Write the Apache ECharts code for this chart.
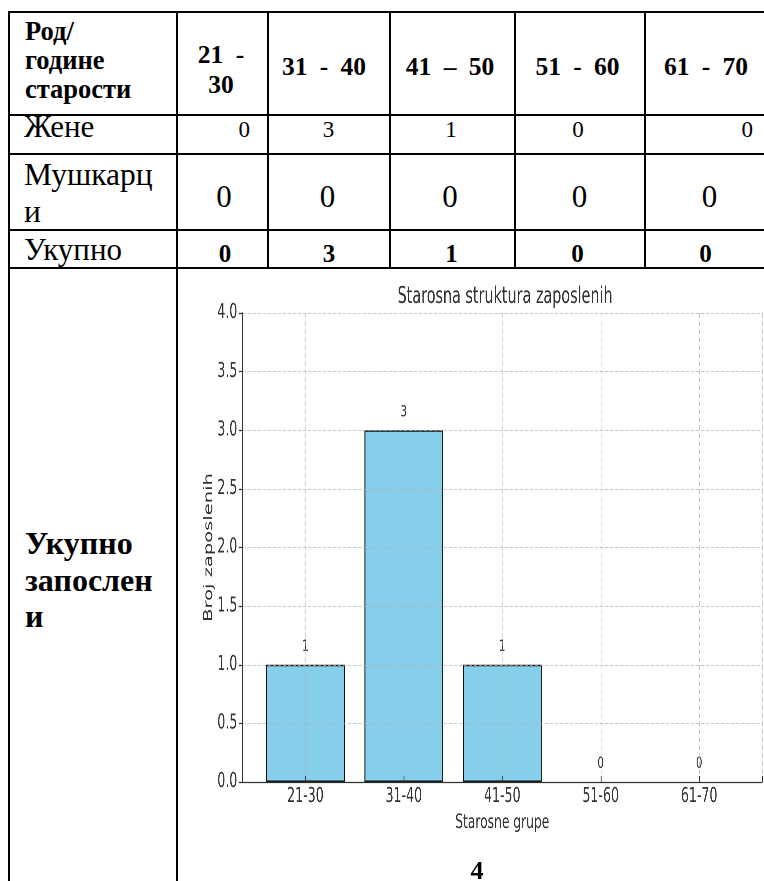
<!DOCTYPE html>
<html><head><meta charset="utf-8">
<script src="https://cdn.jsdelivr.net/npm/echarts@6/dist/echarts.min.js"></script>
<style>
html,body{margin:0;padding:0;background:#fff;}
body{width:764px;height:881px;overflow:hidden;position:relative;font-family:"Liberation Serif","Times New Roman",serif;color:#000;}
.ln{position:absolute;background:#000;}
.t{position:absolute;white-space:nowrap;}
#chart{position:absolute;left:180px;top:270px;width:927px;height:611px;transform:scaleX(0.63);transform-origin:0 0;}
</style></head><body>
<div id="chart"></div>
<script>
// ---------- DATA ----------
const headerTitle = ['Род/', 'године', 'старости'];
const ageGroups = [['21 -', '30'], ['31 - 40'], ['41 – 50'], ['51 - 60'], ['61 - 70']];
const womenLabel = ['Жене'];
const menLabel = ['Мушкарц', 'и'];
const sumLabel = ['Укупно'];
const women = [0, 3, 1, 0, 0];
const men = [0, 0, 0, 0, 0];
const total = [0, 3, 1, 0, 0];
const totalEmployedLabel = ['Укупно', 'запослен', 'и'];
const totalEmployed = ['4'];
const chartTitle = 'Starosna struktura zaposlenih';
const chartXName = 'Starosne grupe';
const chartYName = 'Broj zaposlenih';
const chartCategories = ['21-30', '31-40', '41-50', '51-60', '61-70'];
const chartValues = [1, 3, 1, 0, 0];
const yTickMin = 0, yTickMax = 4, yTickStep = 0.5;

// ---------- LAYOUT ----------
const vLines = [[9, 12, 881], [177, 12, 881], [268, 12, 268], [390, 12, 268], [515, 12, 268], [645, 12, 268], [767, 12, 268]];
const hLines = [12, 115, 154, 230, 268];
function line(x, y, w, h) {
  const d = document.createElement('div'); d.className = 'ln';
  d.style.left = x + 'px'; d.style.top = y + 'px'; d.style.width = w + 'px'; d.style.height = h + 'px';
  document.body.appendChild(d);
}
vLines.forEach(([x, y0, y1]) => line(x - 1, y0 - 1, 2, y1 - y0 + 2));
hLines.forEach(y => line(8, y - 1, 762, 2));

function put(text, x, baseline, size, bold, align, extra) {
  const d = document.createElement('div'); d.className = 't';
  d.textContent = text;
  d.style.fontSize = size + 'px'; d.style.lineHeight = size + 'px';
  d.style.fontWeight = bold ? 'bold' : 'normal';
  d.style.top = (baseline - 0.8375 * size) + 'px';
  d.style.left = x + 'px';
  if (align === 'center') d.style.transform = 'translateX(-50%)';
  if (align === 'right') d.style.transform = 'translateX(-100%)';
  if (extra) Object.assign(d.style, extra);
  document.body.appendChild(d);
}
// header
const hdrBase = [40, 69, 98.5];
headerTitle.forEach((s, i) => put(s, 25, hdrBase[i], 26.5, true, 'left'));
const hdrCenters = [221, 324, 450, 577.5, 706];
ageGroups.forEach((lines, i) => {
  const bases = lines.length === 2 ? [63.3, 93.3] : [75];
  lines.forEach((s, j) => put(s, hdrCenters[i], bases[j], 25.5, true, 'center', {wordSpacing: '6px'}));
});
// women row
put(womenLabel[0], 24, 137, 31, false, 'left');
const wPos = [[250, 'right'], [328.5, 'center'], [451, 'center'], [578, 'center'], [753, 'right']];
women.forEach((v, i) => put(String(v), wPos[i][0], 137, 23, false, wPos[i][1]));
// men row
[185, 222].forEach((b, j) => put(menLabel[j], 24, b, 31.5, false, 'left'));
const mPos = [224, 327.5, 450, 579.5, 709.5];
men.forEach((v, i) => put(String(v), mPos[i], 206.7, 31, false, 'center'));
// total row
put(sumLabel[0], 24, 260, 31, false, 'left');
const tPos = [225, 329, 451.5, 577.5, 705.5];
total.forEach((v, i) => put(String(v), tPos[i], 261.7, 25, true, 'center'));
// bottom cell
[554, 591, 627].forEach((b, j) => put(totalEmployedLabel[j], 25, b, 32, true, 'left'));
put(totalEmployed[0], 477, 880, 26, true, 'center');

// ---------- CHART ----------
const F = 'DejaVu Sans';
const G = {left: 99, top: 43, width: 834, height: 469};
const chart = echarts.init(document.getElementById('chart'), null, {renderer: 'canvas', width: 927, height: 611, devicePixelRatio: 2});
const gridStyle = {color: 'rgba(175,175,175,0.7)', type: [5, 3], width: 1};
chart.setOption({
  animation: false,
  grid: {left: G.left, top: G.top, width: G.width, height: G.height, containLabel: false},
  xAxis: {
    type: 'value', min: -0.64, max: 4.64, z: 3,
    name: chartXName, nameLocation: 'middle', nameGap: 31, nameMoveOverlap: false,
    nameTextStyle: {fontSize: 19.5, color: '#333', fontFamily: F},
    axisLine: {show: true, onZero: true, lineStyle: {color: '#333', width: 1.3}},
    axisTick: {show: true, inside: true, length: 6, lineStyle: {color: '#333', width: 1.3}},
    axisLabel: {margin: 5, fontSize: 20, color: '#333', fontFamily: F,
      formatter: v => (Number.isInteger(v) && chartCategories[Math.abs(v)] !== undefined) ? chartCategories[Math.abs(v)] : ''},
    splitLine: {show: true, lineStyle: gridStyle}
  },
  yAxis: {
    type: 'value', min: yTickMin, max: yTickMax, interval: yTickStep, z: 3,
    name: chartYName, nameLocation: 'middle', nameGap: 43, nameMoveOverlap: false,
    nameTextStyle: {fontSize: 19.5, color: '#333', fontFamily: F},
    axisLine: {show: true, onZero: false, lineStyle: {color: '#333', width: 1.5}},
    axisTick: {show: true, inside: false, length: 6, lineStyle: {color: '#333', width: 1.3}},
    axisLabel: {margin: 8, fontSize: 20, color: '#333', fontFamily: F, formatter: v => v.toFixed(1)},
    splitLine: {show: true, lineStyle: gridStyle}
  },
  series: [{
    type: 'bar', z: 2,
    data: chartValues.map((v, i) => ({value: [i, v], itemStyle: v === 0 ? {borderWidth: 0} : undefined})),
    barWidth: '80%',
    itemStyle: {color: '#87CEEB', borderColor: '#111', borderWidth: 1.5},
    label: {show: true, position: 'top', distance: 10, fontSize: 16, color: '#333', fontFamily: F,
      formatter: p => String(p.value[1])}
  }],
  graphic: [{
    type: 'text', x: G.left + G.width / 2, y: 27,
    style: {text: chartTitle, align: 'center', verticalAlign: 'middle', fontSize: 22.8, fontFamily: F, fill: '#333'}
  }]
});
</script>
</body></html>
